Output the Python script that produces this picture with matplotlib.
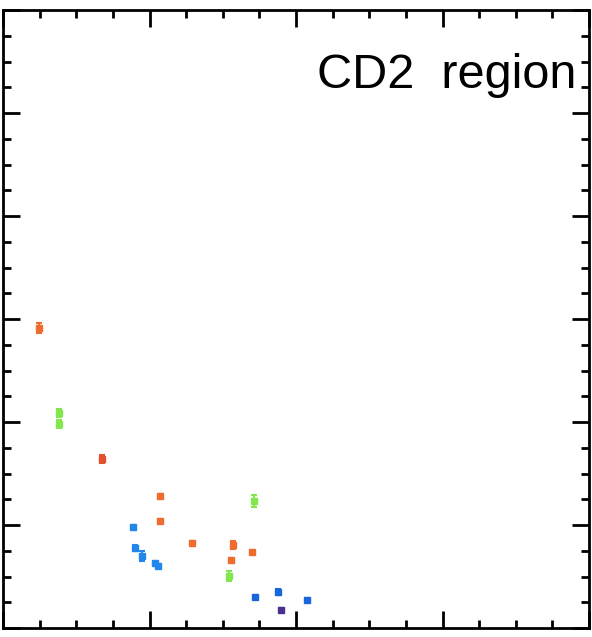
import matplotlib
matplotlib.use("Agg")
import matplotlib.pyplot as plt
from matplotlib.ticker import MultipleLocator

# data (x, y, yerr) per colour group
orange_x = [0.246, 1.072, 1.072, 1.290, 1.570, 1.556, 1.700]
orange_y = [2.913, 1.282, 1.039, 0.825, 0.806, 0.660, 0.738]
orange_e = [0.045, 0.02, 0.02, 0.02, 0.04, 0.02, 0.02]

red_x = [0.676]
red_y = [1.641]
red_e = [0.04]

green_x = [0.382, 0.382, 1.713, 1.543]
green_y = [2.087, 1.981, 1.233, 0.505]
green_e = [0.04, 0.04, 0.055, 0.05]

blue_x = [1.720, 1.877, 2.075]
blue_y = [0.301, 0.350, 0.272]
blue_e = [0.02, 0.03, 0.02]

lblue_x = [0.887, 0.901, 0.949, 1.038, 1.058]
lblue_y = [0.981, 0.777, 0.699, 0.631, 0.602]
lblue_e = [0.02, 0.03, 0.05, 0.02, 0.02]

purple_x = [1.898]
purple_y = [0.175]
purple_e = [0.02]

groups = [
    (orange_x, orange_y, orange_e, "#ee6c2e"),
    (red_x, red_y, red_e, "#e2502e"),
    (green_x, green_y, green_e, "#84e64e"),
    (lblue_x, lblue_y, lblue_e, "#2386ea"),
    (blue_x, blue_y, blue_e, "#1766dc"),
    (purple_x, purple_y, purple_e, "#4a2f8c"),
]

fig = plt.figure(figsize=(5.92, 6.37), dpi=100)
ax = fig.add_axes([3/592, 1 - 628/637, 586/592, 618/637])

for xs, ys, es, c in groups:
    ax.errorbar(xs, ys, yerr=es, fmt="s", color=c, ms=4.5, mec=c,
                elinewidth=1.5, capsize=2.5, capthick=1.5, zorder=3)

ax.set_xlim(0, 4)
ax.set_ylim(0, 6)
ax.xaxis.set_major_locator(MultipleLocator(1))
ax.xaxis.set_minor_locator(MultipleLocator(0.25))
ax.yaxis.set_major_locator(MultipleLocator(1))
ax.yaxis.set_minor_locator(MultipleLocator(0.25))
ax.tick_params(which="both", direction="in", top=True, right=True,
               labelbottom=False, labelleft=False, width=2.0, color="black")
ax.tick_params(which="major", length=12)
ax.tick_params(which="minor", length=6)
for s in ax.spines.values():
    s.set_linewidth(2.0)

ax.text(0.978, 0.874, "CD2  region", transform=ax.transAxes, ha="right",
        va="baseline", fontsize=35, family="Liberation Sans", color="black")

fig.savefig("out.png", dpi=100)
